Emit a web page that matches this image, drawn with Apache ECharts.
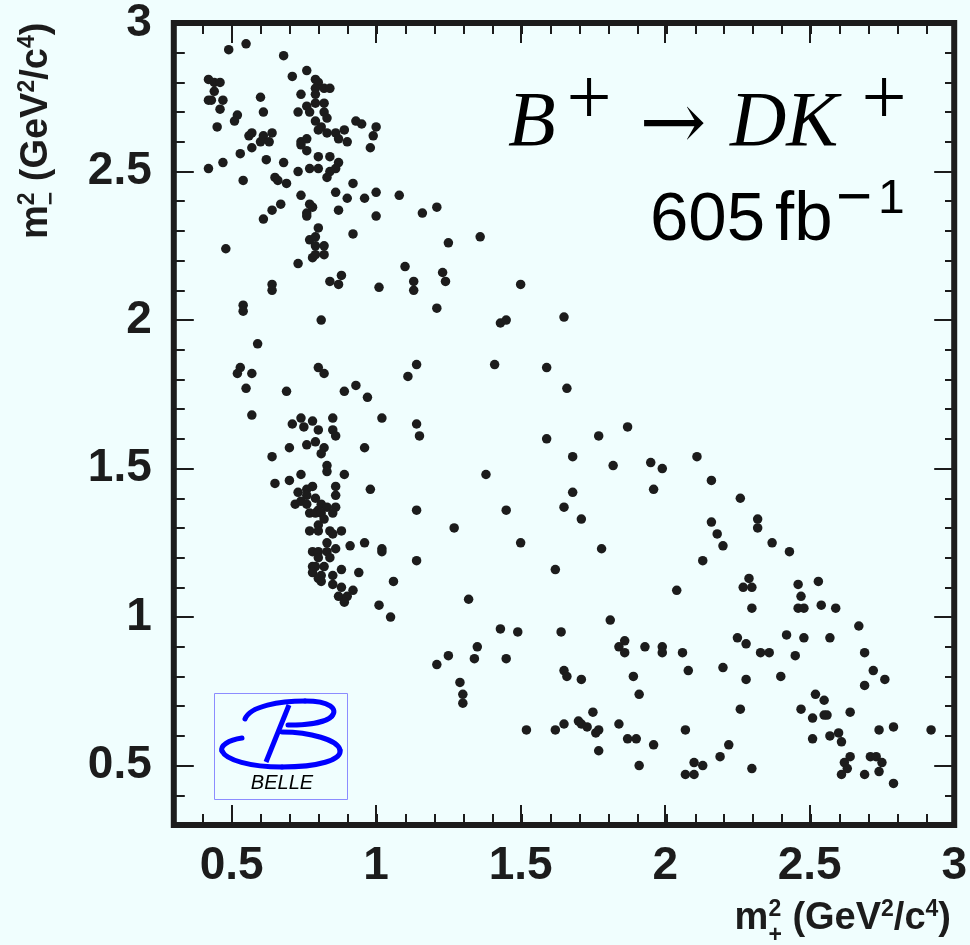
<!DOCTYPE html>
<html>
<head>
<meta charset="utf-8">
<script src="https://cdn.jsdelivr.net/npm/echarts@6/dist/echarts.min.js"></script>
<style>
  html, body { margin: 0; padding: 0; background: #f0fefe; }
  #chart { width: 970px; height: 945px; }
</style>
</head>
<body>
<div id="chart"></div>
<script>
// Dalitz plot events, (m+^2, m-^2) in GeV^2/c^4
const upperLeftEvents = [
  [0.49,2.91],[0.55,2.93],[0.68,2.89],[0.76,2.84],[0.71,2.82],[0.42,2.81],[0.44,2.80],[0.46,2.80],
  [0.44,2.77],[0.42,2.74],[0.43,2.74],[0.47,2.74],[0.46,2.71],[0.45,2.65],[0.52,2.69],[0.51,2.67],
  [0.60,2.75],[0.61,2.70],[0.79,2.81],[0.80,2.80],[0.79,2.78],[0.79,2.76],[0.82,2.78],[0.84,2.78],
  [0.74,2.76],[0.79,2.73],[0.82,2.73],[0.76,2.72],[0.77,2.70],[0.73,2.70],[0.82,2.70],[0.83,2.68],
  [0.79,2.67],[0.81,2.65],[0.80,2.64],[0.83,2.63],[0.86,2.63],[0.89,2.64],[0.87,2.61],[0.90,2.60],
  [0.93,2.67],[0.95,2.66],[1.00,2.65],[0.99,2.62],[0.98,2.58],[0.57,2.63],[0.56,2.62],[0.60,2.60],
  [0.57,2.58],[0.61,2.62],[0.63,2.60],[0.64,2.63],[0.53,2.56],[0.62,2.54],[0.47,2.53],[0.42,2.51],
  [0.54,2.47],[0.68,2.53],[0.74,2.60],[0.76,2.61],[0.74,2.59],[0.76,2.57],[0.80,2.55],[0.84,2.55],
  [0.73,2.50],[0.77,2.51],[0.80,2.51],[0.87,2.53],[0.86,2.51],[0.84,2.50],[0.83,2.48],[0.65,2.48],
  [0.66,2.47],[0.69,2.46],[0.92,2.46],[1.00,2.43],[0.86,2.43],[0.90,2.41],[0.96,2.41],[1.08,2.42],
  [1.16,2.36],[1.21,2.38],[0.74,2.42],[0.77,2.39],[0.78,2.38],[0.76,2.36],[0.76,2.35],[0.67,2.39],
  [0.64,2.37],[0.61,2.34],[0.87,2.37],[1.00,2.35],[0.80,2.31],[0.92,2.29],[0.48,2.24],[0.77,2.27],
  [0.79,2.28],[0.79,2.25],[0.82,2.25],[0.82,2.22],[0.78,2.21],[0.79,2.22],[0.73,2.19],[1.10,2.18],
  [0.88,2.15],[0.84,2.13],[0.87,2.12],[1.13,2.13],[1.01,2.11],[1.13,2.10],[0.64,2.12],[0.64,2.10],
  [1.25,2.26],[1.36,2.28],[1.23,2.16],[1.24,2.13],[1.50,2.12]
];

const lowerLeftEvents = [
  [1.21,2.04],[0.54,2.05],[0.54,2.03],[0.81,2.00],[0.59,1.92],[0.53,1.84],[0.52,1.82],[0.57,1.82],
  [0.55,1.77],[0.80,1.84],[0.82,1.82],[1.14,1.85],[1.11,1.81],[0.69,1.76],[0.89,1.76],[0.93,1.78],
  [0.97,1.74],[0.57,1.68],[0.74,1.67],[0.78,1.66],[0.85,1.67],[0.71,1.65],[0.75,1.64],[0.80,1.63],
  [0.85,1.63],[0.86,1.61],[1.02,1.67],[1.14,1.65],[1.15,1.61],[0.79,1.59],[0.76,1.58],[0.70,1.57],
  [0.82,1.57],[0.81,1.55],[0.96,1.57],[0.64,1.54],[0.83,1.51],[0.83,1.49],[0.89,1.48],[0.74,1.48],
  [0.70,1.46],[0.65,1.45],[0.78,1.44],[0.86,1.44],[0.98,1.43],[0.76,1.43],[0.73,1.42],[0.76,1.41],
  [0.79,1.40],[0.86,1.41],[0.72,1.38],[0.74,1.39],[0.76,1.38],[0.81,1.38],[0.83,1.37],[0.80,1.36],
  [0.86,1.37],[0.77,1.35],[0.79,1.35],[0.81,1.35],[0.85,1.35],[0.82,1.33],[1.14,1.36],[0.77,1.29],
  [0.80,1.31],[0.80,1.29],[0.84,1.29],[0.85,1.28],[0.88,1.29],[0.83,1.25],[0.91,1.24],[0.96,1.25],
  [0.86,1.23],[1.02,1.23],[1.02,1.22],[0.78,1.22],[0.80,1.22],[0.83,1.22],[0.80,1.20],[0.84,1.20],
  [1.14,1.19],[0.78,1.17],[0.79,1.17],[0.82,1.17],[0.88,1.16],[0.94,1.15],[0.78,1.15],[0.81,1.14],
  [0.85,1.14],[0.80,1.13],[0.81,1.12],[0.85,1.11],[0.88,1.10],[0.92,1.09],[0.87,1.07],[0.90,1.07],
  [0.89,1.05],[1.06,1.12],[1.01,1.04],[1.05,1.00],[1.21,0.84]
];

const middleEvents = [
  [1.43,1.99],[1.45,2.00],[1.65,2.01],[1.41,1.85],[1.59,1.84],[1.66,1.77],[1.87,1.64],[1.59,1.60],
  [1.77,1.61],[1.68,1.54],[1.82,1.51],[1.95,1.52],[1.99,1.50],[2.11,1.54],[1.38,1.48],[1.96,1.43],
  [1.68,1.42],[1.65,1.37],[1.45,1.36],[1.71,1.33],[1.27,1.30],[1.50,1.25],[1.78,1.23],
  [1.62,1.16],[2.04,1.09],[1.32,1.06],[1.81,0.99],[1.43,0.96],[1.49,0.95],[1.64,0.95],[1.35,0.90],
  [1.34,0.86],[1.45,0.86],[1.25,0.87],[1.86,0.92],[1.84,0.90],[1.86,0.88],[1.93,0.90],[1.99,0.90],
  [1.99,0.88],[2.06,0.88],[2.08,0.82],[1.65,0.82],[1.66,0.80],[1.71,0.79],[1.89,0.80],[1.91,0.74],
  [1.29,0.78],[1.30,0.74],[1.30,0.71],[1.75,0.68],[1.52,0.62],[1.62,0.62],[1.65,0.64],[1.70,0.65],
  [1.71,0.64],[1.73,0.63],[1.76,0.61],[1.77,0.62],[1.84,0.64],[1.77,0.55],[1.87,0.59],[1.90,0.59],
  [1.96,0.57],[1.91,0.50],[2.07,0.62],[2.10,0.51],[2.07,0.47],[2.10,0.47]
];

const rightEvents = [
  [2.16,1.46],[2.26,1.40],[2.16,1.32],[2.18,1.28],[2.20,1.24],[2.32,1.33],[2.32,1.30],[2.37,1.25],
  [2.43,1.22],[2.13,1.19],[2.13,0.50],[2.29,1.13],[2.27,1.10],[2.30,1.10],[2.30,1.03],[2.46,1.11],
  [2.53,1.12],[2.47,1.07],[2.46,1.03],[2.48,1.03],[2.54,1.04],[2.59,1.03],[2.67,0.97],[2.25,0.93],
  [2.28,0.91],[2.33,0.88],[2.36,0.88],[2.42,0.94],[2.48,0.93],[2.57,0.93],[2.45,0.87],[2.69,0.88],
  [2.72,0.82],[2.76,0.79],[2.69,0.77],[2.20,0.83],[2.28,0.79],[2.40,0.80],[2.26,0.69],[2.52,0.74],
  [2.55,0.72],[2.47,0.69],[2.51,0.66],[2.55,0.67],[2.56,0.67],[2.64,0.68],[2.51,0.59],[2.57,0.60],
  [2.60,0.61],[2.61,0.58],[2.74,0.62],[2.79,0.63],[2.92,0.62],[2.22,0.57],[2.19,0.53],[2.30,0.49],
  [2.64,0.53],[2.62,0.51],[2.63,0.49],[2.61,0.47],[2.71,0.53],[2.73,0.53],[2.75,0.51],[2.74,0.48],
  [2.69,0.47],[2.79,0.44]
];

// axis range and ticks (same on both axes)
const axisMin = 0.3;
const axisMax = 3;
const majorTicks = [0.5, 1, 1.5, 2, 2.5, 3];
const minorTicks = [0.3,0.4,0.5,0.6,0.7,0.8,0.9,1.0,1.1,1.2,1.3,1.4,1.5,1.6,1.7,1.8,1.9,2.0,
                    2.1,2.2,2.3,2.4,2.5,2.6,2.7,2.8,2.9,3.0];

const BG = '#f0fefe';
const INK = '#1c1c1c';
const LOGO_BLUE = '#0000ff';
const SANS = '"Liberation Sans", Arial, Helvetica, sans-serif';
const SERIF = '"Liberation Serif", "DejaVu Serif", "Times New Roman", serif';

const GRID_BOX = { left: 173.8, right: 14, top: 23, bottom: 120 };

// lay out a run of text pieces (with super/subscripts) on a common baseline
const measureCtx = document.createElement('canvas').getContext('2d');
function textRun(pieces, base) {
  let x = 0, stacked = 0;
  const children = [];
  pieces.forEach(p => {
    const size = p.size || base.size;
    const family = p.family || base.family;
    const weight = p.weight || base.weight || 'normal';
    const fstyle = p.italic ? 'italic' : 'normal';
    measureCtx.font = fstyle + ' ' + weight + ' ' + size + 'px ' + family;
    const w = measureCtx.measureText(p.t).width;
    children.push({
      type: 'text', x: x, y: (p.dy || 0) - 0.35 * size,
      style: { text: p.t, fontSize: size, fontFamily: family, fontWeight: weight,
               fontStyle: fstyle, fill: base.fill || INK, align: 'left', verticalAlign: 'middle' }
    });
    if (p.stack) { stacked = Math.max(stacked, w); }
    else { x += Math.max(w, stacked); stacked = 0; }
  });
  return { children: children, width: x };
}

const titleBase = { size: 38, family: SANS, weight: 'bold' };
const xTitle = textRun([
  { t: 'm' }, { t: '2', size: 23, dy: -14, stack: true }, { t: '+', size: 23, dy: 12 },
  { t: ' (GeV' }, { t: '2', size: 23, dy: -14 }, { t: '/c' }, { t: '4', size: 23, dy: -14 }, { t: ')' }
], titleBase);
const yTitle = textRun([
  { t: 'm' }, { t: '2', size: 23, dy: -14, stack: true }, { t: '\u2212', size: 23, dy: 10 },
  { t: ' (GeV' }, { t: '2', size: 23, dy: -14 }, { t: '/c' }, { t: '4', size: 23, dy: -14 }, { t: ')' }
], titleBase);

function valueAxis(extra) {
  return Object.assign({
    type: 'value', min: axisMin, max: axisMax,
    axisLine: { show: false },
    splitLine: { show: false },
    axisLabel: { show: false }
  }, extra);
}
function ticks(values, len) {
  return { show: true, inside: true, length: len, customValues: values,
           lineStyle: { color: INK, width: 2 } };
}
const tickLabel = {
  show: true, customValues: majorTicks, color: INK,
  fontFamily: SANS, fontWeight: 'bold', fontSize: 46,
  formatter: v => String(+(+v).toFixed(1))
};

// Belle logo strokes
function curve(x1, y1, c1x, c1y, c2x, c2y, x2, y2) {
  return { type: 'bezierCurve',
           shape: { x1: x1, y1: y1, cpx1: c1x, cpy1: c1y, cpx2: c2x, cpy2: c2y, x2: x2, y2: y2 },
           style: { fill: null, stroke: LOGO_BLUE, lineWidth: 5, lineCap: 'round' } };
}
const logo = [
  { type: 'rect', shape: { x: 214.5, y: 693.5, width: 133, height: 106 },
    style: { fill: null, stroke: '#8c8cff', lineWidth: 1 } },
  curve(245, 719, 250, 706, 280, 701, 305, 701),
  curve(305, 701, 330, 701, 338, 709, 332, 716),
  curve(332, 716, 326, 723, 305, 725, 288, 725),
  { type: 'line', shape: { x1: 289, y1: 705, x2: 266, y2: 762 },
    style: { stroke: LOGO_BLUE, lineWidth: 5 } },
  curve(242, 738, 228, 740, 220, 746, 222, 751),
  curve(222, 751, 226, 760, 250, 767, 282, 767),
  curve(282, 767, 318, 767, 342, 760, 340, 750),
  curve(340, 750, 338, 740, 310, 732, 282, 732),
  { type: 'text', x: 282, y: 783,
    style: { text: 'BELLE', fontSize: 20, fontFamily: SANS, fontStyle: 'italic', fill: '#000',
             align: 'center', verticalAlign: 'middle' } }
];

const chart = echarts.init(document.getElementById('chart'), null, { renderer: 'canvas' });

const option = {
  backgroundColor: BG,
  animation: false,
  grid: [
    Object.assign({ show: true, borderWidth: 6, borderColor: INK, backgroundColor: BG }, GRID_BOX),
    Object.assign({ show: false }, GRID_BOX)
  ],
  xAxis: [
    valueAxis({ gridIndex: 0, position: 'bottom', axisTick: ticks(majorTicks, 20),
                axisLabel: Object.assign({ margin: 18 }, tickLabel) }),
    valueAxis({ gridIndex: 0, position: 'top', axisTick: ticks(majorTicks, 20) }),
    valueAxis({ gridIndex: 1, position: 'bottom', axisTick: ticks(minorTicks, 11) }),
    valueAxis({ gridIndex: 1, position: 'top', axisTick: ticks(minorTicks, 11) })
  ],
  yAxis: [
    valueAxis({ gridIndex: 0, position: 'left', axisTick: ticks(majorTicks, 20),
                axisLabel: Object.assign({ margin: 22 }, tickLabel) }),
    valueAxis({ gridIndex: 0, position: 'right', axisTick: ticks(majorTicks, 20) }),
    valueAxis({ gridIndex: 1, position: 'left', axisTick: ticks(minorTicks, 11) }),
    valueAxis({ gridIndex: 1, position: 'right', axisTick: ticks(minorTicks, 11) })
  ],
  series: [{
    type: 'scatter',
    xAxisIndex: 0, yAxisIndex: 0,
    symbol: 'circle', symbolSize: 9.5,
    itemStyle: { color: INK, opacity: 1 },
    data: [].concat(upperLeftEvents, lowerLeftEvents, middleEvents, rightEvents)
  }],
  graphic: [
    // axis titles
    { type: 'group', x: 951 - xTitle.width, y: 932, children: xTitle.children },
    { type: 'group', x: 50, y: 239, rotation: Math.PI / 2, children: yTitle.children },
    // decay label
    { type: 'text', x: 508, y: 152 - 0.35 * 78,
      style: { text: 'B', fontSize: 78, fontFamily: SERIF, fontStyle: 'italic', fill: '#000', verticalAlign: 'middle' } },
    { type: 'text', x: 589, y: 103,
      style: { text: '+', fontSize: 80, fontFamily: SERIF, fill: '#000', align: 'center', verticalAlign: 'middle' } },
    { type: 'text', x: 673, y: 128,
      style: { text: '\u2192', fontSize: 80, fontFamily: '"DejaVu Serif", serif', fill: '#000',
               align: 'center', verticalAlign: 'middle' } },
    { type: 'text', x: 730, y: 152 - 0.35 * 78,
      style: { text: 'DK', fontSize: 78, fontFamily: SERIF, fontStyle: 'italic', fill: '#000', verticalAlign: 'middle' } },
    { type: 'text', x: 884, y: 103,
      style: { text: '+', fontSize: 80, fontFamily: SERIF, fill: '#000', align: 'center', verticalAlign: 'middle' } },
    // luminosity
    { type: 'text', x: 650, y: 245 - 0.35 * 69,
      style: { text: '605', fontSize: 69, fontFamily: SANS, fill: '#000', verticalAlign: 'middle' } },
    { type: 'text', x: 775, y: 245 - 0.35 * 69,
      style: { text: 'fb', fontSize: 69, fontFamily: SANS, fill: '#000', verticalAlign: 'middle' } },
    { type: 'text', x: 836, y: 217 - 0.35 * 48,
      style: { text: '\u2212', fontSize: 62, fontFamily: SANS, fill: '#000', verticalAlign: 'middle' } },
    { type: 'text', x: 878, y: 217 - 0.35 * 48,
      style: { text: '1', fontSize: 48, fontFamily: SANS, fill: '#000', verticalAlign: 'middle' } }
  ].concat(logo)
};

chart.setOption(option);
</script>
</body>
</html>
